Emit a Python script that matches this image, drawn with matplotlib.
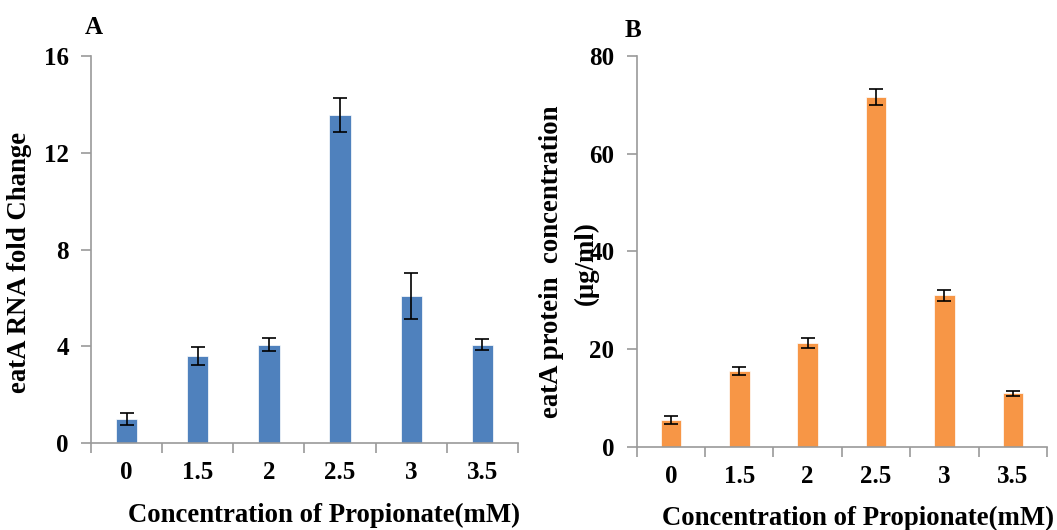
import matplotlib
matplotlib.use("Agg")
import matplotlib.pyplot as plt
import numpy as np

plt.rcParams['font.family'] = ['Liberation Serif', 'DejaVu Serif']
plt.rcParams['font.weight'] = 'bold'

concentrations = ['0', '1.5', '2', '2.5', '3', '3.5']

rna_fold = [1.0, 3.6, 4.07, 13.56, 6.08, 4.07]
rna_err = [0.25, 0.37, 0.27, 0.69, 0.96, 0.24]

protein_conc = [5.6, 15.55, 21.3, 71.6, 31.0, 11.0]
protein_err = [0.8, 0.85, 1.0, 1.6, 1.1, 0.5]

BLUE = '#4F81BD'
ORANGE = '#F79646'
AXIS_GRAY = '#9A9A9A'
W, H = 1057, 530

fig = plt.figure(figsize=(W / 100, H / 100), dpi=100)


def px_axes(left, top, right, bottom):
    return fig.add_axes([left / W, 1 - bottom / H, (right - left) / W,
                         (bottom - top) / H])


ax_a = px_axes(91, 56, 518, 443)
ax_b = px_axes(636.7, 55.7, 1047, 447)


def style_axis(ax, values, errors, color, ymax, step):
    x = np.arange(len(values))
    ax.bar(x, values, width=0.30, color=color, edgecolor='#FFFFFF',
           linewidth=0.5, zorder=2)
    ax.errorbar(x, values, yerr=errors, fmt='none', ecolor='black',
                elinewidth=1.2, capsize=4.8, capthick=1.2, zorder=3)
    ax.set_xlim(-0.5, len(values) - 0.5)
    ax.set_ylim(0, ymax)
    ax.set_yticks(np.arange(0, ymax + 1, step))
    ax.set_xticks(x)
    ax.set_xticklabels(concentrations)
    ax.set_xticks(np.arange(-0.5, len(values)), minor=True)
    ax.tick_params(axis='x', which='major', length=0, pad=13, labelsize=18)
    ax.tick_params(axis='x', which='minor', length=7, width=1.2,
                   color=AXIS_GRAY, direction='out')
    ax.tick_params(axis='y', length=7, width=1.2, color=AXIS_GRAY,
                   labelsize=18, pad=9)
    for side in ('top', 'right'):
        ax.spines[side].set_visible(False)
    for side in ('left', 'bottom'):
        ax.spines[side].set_color(AXIS_GRAY)
        ax.spines[side].set_linewidth(1.2)
    for lab in ax.get_xticklabels() + ax.get_yticklabels():
        lab.set_fontweight('bold')


style_axis(ax_a, rna_fold, rna_err, BLUE, 16, 4)
style_axis(ax_b, protein_conc, protein_err, ORANGE, 80, 20)

LABEL_SIZE = 19.3

# panel letters
fig.text(85 / W, 1 - 34 / H, 'A', fontsize=18, fontweight='bold',
         va='baseline', ha='left')
fig.text(624.5 / W, 1 - 37 / H, 'B', fontsize=18, fontweight='bold',
         va='baseline', ha='left')

# x-axis titles
fig.text(324.5 / W, 1 - 522 / H, 'Concentration of Propionate(mM)',
         fontsize=LABEL_SIZE, fontweight='bold', ha='center', va='baseline')
fig.text(858.5 / W, 1 - 525 / H, 'Concentration of Propionate(mM)',
         fontsize=LABEL_SIZE, fontweight='bold', ha='center', va='baseline')

# y-axis titles
fig.text(20 / W, 1 - 262.6 / H, 'eatA RNA fold Change', fontsize=LABEL_SIZE,
         fontweight='bold', rotation=90, ha='center', va='center')
fig.text(551 / W, 1 - 262 / H, 'eatA protein  concentration',
         fontsize=LABEL_SIZE, fontweight='bold', rotation=90, ha='center',
         va='center')
fig.text(586.6 / W, 1 - 262.7 / H, '(µg/ml)', fontsize=LABEL_SIZE,
         fontweight='bold', rotation=90, ha='center', va='center')

fig.savefig('out.png', dpi=100)
